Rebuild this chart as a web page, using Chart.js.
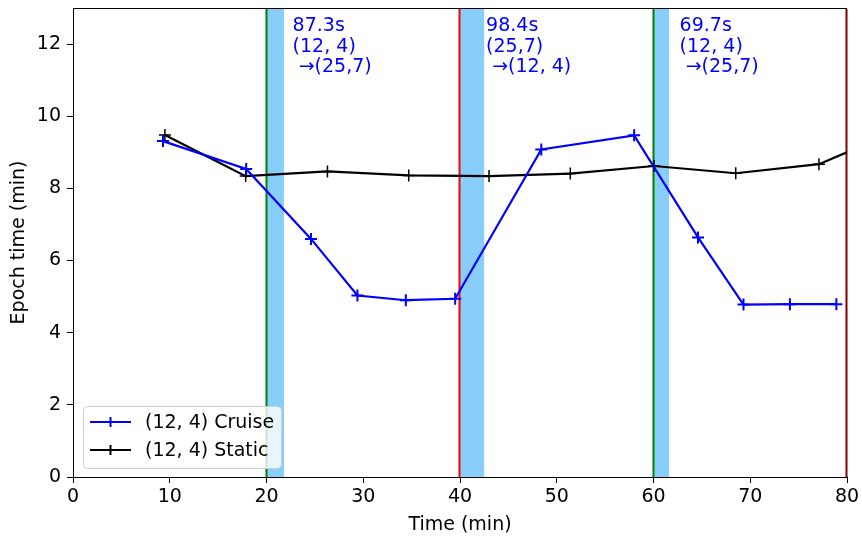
<!DOCTYPE html>
<html>
<head>
<meta charset="utf-8">
<script src="https://cdn.jsdelivr.net/npm/chart.js@4/dist/chart.umd.min.js"></script>
<style>
  html, body { margin: 0; padding: 0; background: #fff; }
  #wrap { width: 862px; height: 538px; }
</style>
</head>
<body>
<div id="wrap"><canvas id="epochChart" width="862" height="538"></canvas></div>
<script>
// Datos
const cruiseX = [9.3, 17.9, 24.6, 29.4, 34.4, 39.5, 48.4, 58.0, 64.6, 69.3, 74.1, 78.9];
const cruiseY = [9.31, 8.54, 6.6, 5.03, 4.9, 4.94, 9.08, 9.47, 6.64, 4.78, 4.79, 4.79];
const staticX = [9.5, 17.85, 26.3, 34.7, 43.0, 51.4, 60.05, 68.5, 77.1, 85.6];
const staticY = [9.48, 8.34, 8.47, 8.36, 8.34, 8.41, 8.62, 8.42, 8.67, 9.64];
const xTicks = [0, 10, 20, 30, 40, 50, 60, 70, 80];
const yTicks = [0, 2, 4, 6, 8, 10, 12];

// Reconfiguraciones: instante, duración de la pausa, texto
const switchAt = [20, 40, 60, 80];
const switchColor = ['#008000', '#ff0000', '#008000', '#800000'];
const pauseEnd = [21.8, 42.5, 61.6];
const pauseText = [
    ['87.3s', '(12, 4)', ' \u2192(25,7)'],
    ['98.4s', '(25,7)', ' \u2192(12, 4)'],
    ['69.7s', '(12, 4)', ' \u2192(25,7)']
];

const FONT = '"DejaVu Sans", sans-serif';
const FS = 19;

const zip = (xs, ys) => xs.map((x, i) => ({ x: x, y: ys[i] }));

const annotations = {
    id: 'annotations',
    beforeDatasetsDraw(chart) {
        const { ctx, chartArea, scales: { x } } = chart;
        ctx.save();
        // marco completo
        ctx.strokeStyle = '#000';
        ctx.lineWidth = 1;
        ctx.strokeRect(chartArea.left + 0.5, chartArea.top + 0.5, chartArea.width - 1, chartArea.height);
        ctx.beginPath();
        ctx.rect(chartArea.left, chartArea.top, chartArea.width + 1, chartArea.height);
        ctx.clip();
        pauseEnd.forEach((end, i) => {
            const x0 = x.getPixelForValue(switchAt[i]);
            const x1 = x.getPixelForValue(end);
            ctx.fillStyle = '#87cefa';
            ctx.fillRect(x0, chartArea.top + 1, x1 - x0, chartArea.height - 1);
        });
        switchAt.forEach((v, i) => {
            const px = Math.round(x.getPixelForValue(v)) - 0.5;
            ctx.strokeStyle = switchColor[i];
            ctx.lineWidth = 2;
            ctx.beginPath();
            ctx.moveTo(px, chartArea.top + 1);
            ctx.lineTo(px, chartArea.bottom);
            ctx.stroke();
        });
        ctx.restore();
    },
    afterDatasetsDraw(chart) {
        const { ctx, chartArea, scales: { x, y } } = chart;
        ctx.save();
        // textos de las pausas
        ctx.fillStyle = '#0000ff';
        ctx.font = FS + 'px ' + FONT;
        ctx.textBaseline = 'top';
        ctx.textAlign = 'left';
        pauseText.forEach((lines, i) => {
            const px = x.getPixelForValue(switchAt[i] + 2.7);
            const py = y.getPixelForValue(12.76);
            lines.forEach((t, j) => ctx.fillText(t, px, py + j * 20.5));
        });
        // leyenda
        const bx = chartArea.left + 10, by = chartArea.bottom - 71, bw = 198, bh = 62;
        ctx.fillStyle = 'rgba(255,255,255,0.8)';
        ctx.strokeStyle = '#cccccc';
        ctx.lineWidth = 1;
        ctx.beginPath();
        ctx.roundRect(bx + 0.5, by + 0.5, bw, bh, 4);
        ctx.fill();
        ctx.stroke();
        chart.data.datasets.forEach((ds, i) => {
            const ly = by + 16 + i * 28;
            ctx.strokeStyle = ds.borderColor;
            ctx.lineWidth = 2;
            ctx.beginPath();
            ctx.moveTo(bx + 7, ly);
            ctx.lineTo(bx + 48, ly);
            ctx.moveTo(bx + 27.5, ly - 5);
            ctx.lineTo(bx + 27.5, ly + 5);
            ctx.stroke();
            ctx.fillStyle = '#000';
            ctx.textBaseline = 'middle';
            ctx.fillText(ds.label, bx + 62, ly + 1);
        });
        ctx.restore();
    }
};

new Chart(document.getElementById('epochChart').getContext('2d'), {
    type: 'line',
    data: {
        datasets: [{
            label: '(12, 4) Cruise',
            data: zip(cruiseX, cruiseY),
            borderColor: '#0000ff',
            backgroundColor: '#0000ff',
            borderWidth: 2.2,
            pointStyle: 'cross',
            pointRadius: 6,
            pointBorderWidth: 2,
            tension: 0
        }, {
            label: '(12, 4) Static',
            data: zip(staticX, staticY),
            borderColor: '#000000',
            backgroundColor: '#000000',
            borderWidth: 2.2,
            pointStyle: 'cross',
            pointRadius: 6,
            pointBorderWidth: 1.5,
            tension: 0
        }]
    },
    options: {
        responsive: false,
        animation: false,
        events: [],
        layout: { padding: { top: 7, right: 15, left: 0, bottom: 0 } },
        plugins: {
            legend: { display: false },
            tooltip: { enabled: false }
        },
        scales: {
            x: {
                type: 'linear',
                min: 0,
                max: 80,
                afterBuildTicks: s => { s.ticks = xTicks.map(v => ({ value: v })); },
                afterFit: s => { s.height = 61; s.paddingLeft = 0; s.paddingRight = 0; },
                grid: { drawOnChartArea: false, drawTicks: true, tickLength: 6, color: '#000' },
                border: { color: '#000', width: 1 },
                ticks: { color: '#000', padding: 3, font: { family: FONT, size: FS }, maxRotation: 0 },
                title: { display: true, text: 'Time (min)', color: '#000', font: { family: FONT, size: FS }, padding: { top: 0, bottom: 2 } }
            },
            y: {
                type: 'linear',
                min: 0,
                max: 13,
                afterBuildTicks: s => { s.ticks = yTicks.map(v => ({ value: v })); },
                afterFit: s => { s.width = 73; s.paddingTop = 0; s.paddingBottom = 0; },
                grid: { drawOnChartArea: false, drawTicks: true, tickLength: 6, color: '#000' },
                border: { color: '#000', width: 1 },
                ticks: { color: '#000', padding: 6, font: { family: FONT, size: FS } },
                title: { display: true, text: 'Epoch time (min)', color: '#000', font: { family: FONT, size: FS }, padding: { top: 8, bottom: 0 } }
            }
        }
    },
    plugins: [annotations]
});
</script>
</body>
</html>
